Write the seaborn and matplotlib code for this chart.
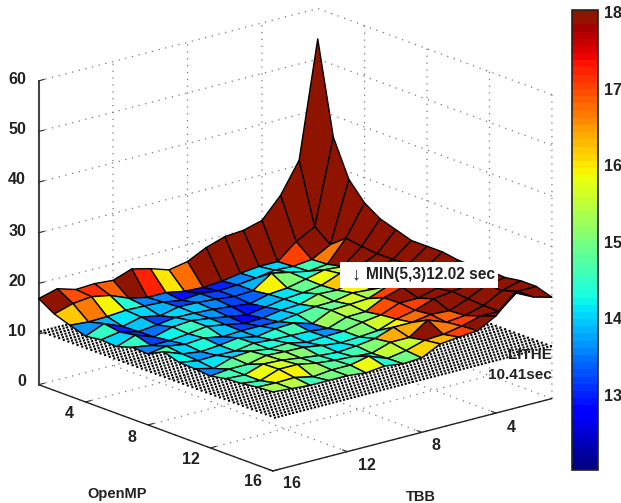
import numpy as np
import seaborn as sns
import matplotlib
import matplotlib.pyplot as plt
from matplotlib.colors import Normalize, ListedColormap
from matplotlib.cm import ScalarMappable

sns.set_style("white")
plt.rcParams['font.family'] = ['Liberation Sans', 'DejaVu Sans']
plt.rcParams['font.weight'] = 'bold'

# thread counts on both axes
openmp = list(range(1, 17))
tbb = list(range(1, 17))
axis_ticks = [4, 8, 12, 16]
z_ticks = [0, 10, 20, 30, 40, 50, 60]
bar_ticks = [13, 14, 15, 16, 17, 18]

# runtime in sec, one row per OpenMP count, TBB count along the row
row01 = [54, 31, 25, 21, 20, 19.7, 18.5, 16.7, 16, 17.2, 18.1, 16.8, 17.1, 16.9, 18, 17]
row02 = [35.7, 19, 17, 14, 14, 13.6, 13, 12.7, 12.9, 13.6, 13.6, 14.4, 15.9, 16.6, 16.2, 15.1]
row03 = [28.5, 16.6, 14.6, 14.2, 14.4, 13.8, 13.4, 13.2, 13.6, 13.2, 13.8, 14, 14.1, 13.8, 13.7, 14]
row04 = [25, 19, 14.8, 14.4, 15.1, 15.9, 13.4, 13.2, 13.6, 13.9, 14, 13.2, 13.9, 13, 14.5, 13]
row05 = [23, 18.5, 15.5, 15.8, 14.9, 14.1, 13.8, 12.9, 13.3, 13.7, 13.9, 14, 13.5, 13.1, 14, 13.4]
row06 = [22, 18.2, 16.6, 16.2, 14.8, 14.3, 14, 13.4, 12.8, 13.4, 14, 14.5, 14.2, 13.2, 14.5, 13.2]
row07 = [21, 18.2, 17, 15.9, 15, 15.2, 14.1, 13.9, 13.3, 13.2, 13.9, 14.5, 14, 13.6, 13.6, 14.2]
row08 = [21, 18.4, 16.9, 15.3, 15.6, 14.9, 14.8, 14.2, 13.7, 13.8, 13.8, 13.6, 14.3, 14, 14.6, 14]
row09 = [21, 18.6, 18, 17, 15.6, 15.4, 15.2, 13.5, 14.6, 14.4, 13.8, 14.5, 14, 13.7, 14.2, 15.6]
row10 = [20.5, 19, 18, 18, 16.9, 15.1, 15, 13.7, 14.1, 14.2, 14.3, 14.6, 14, 14.1, 14, 14.6]
row11 = [20.5, 19, 18, 17, 17, 15.6, 15.1, 14.3, 14.2, 14, 14.8, 14.6, 15.1, 14.8, 13.6, 14.5]
row12 = [20.7, 19, 18.5, 18, 16.7, 15.9, 14.6, 14.3, 14.1, 14.5, 15.1, 15.2, 15.4, 14.6, 14.6, 14.2]
row13 = [20.5, 20, 18.2, 16.8, 17, 16.4, 16.4, 15.1, 14.6, 14.3, 14.6, 15.1, 15.6, 15.8, 14.6, 14.8]
row14 = [21, 20, 18, 17, 16.6, 18, 15.5, 15.5, 14.3, 14.6, 14.8, 15.2, 15.9, 15.9, 14.6, 15]
row15 = [21, 21, 18, 18, 17, 16.3, 16.1, 15, 14.4, 15.8, 15, 15, 14.6, 15.4, 15.3, 15.4]
row16 = [20, 21, 22.8, 19.2, 17.2, 16.9, 16.5, 14.7, 14.5, 15, 14.6, 15, 15, 15, 15.3, 15.6]
runtime = np.array([row01, row02, row03, row04, row05, row06, row07, row08,
                    row09, row10, row11, row12, row13, row14, row15, row16])

lithe_time = 10.41
min_time = 12.02
max_color = 18.0

# tick label spots in pixels of the 621x503 picture
z_label_y = [382, 332, 281, 231, 180, 129, 79]
openmp_label_xy = [(69, 414), (132, 437), (191, 460), (253, 482)]
tbb_label_xy = [(511, 427), (436, 446), (367, 465), (292, 483)]

def put_text(px, py, s, **kw):
    return fig.text(px / 621, 1 - py / 503, s, color='#222222', va='center', **kw)

fig = plt.figure(figsize=(6.21, 5.03), dpi=100)
ax = fig.add_axes([37 / 621, 5 / 503, 503 / 621, 1.0], projection='3d', computed_zorder=False)
ax.set_proj_type('ortho')
ax.view_init(elev=18, azim=50)
ax.set_box_aspect((1, 1, 0.877), zoom=1.17)

# seaborn refuses the name jet, so hand it the 64 matlab levels as a list
levels = sns.color_palette(list(matplotlib.colormaps['jet'](np.linspace(0, 1, 64))[:, :3]))
levels[-1] = (0.56, 0.08, 0.0)
levels[-2] = (0.58, 0.07, 0.0)
cmap = ListedColormap(levels)
norm = Normalize(vmin=min_time, vmax=max_color, clip=True)

T, O = np.meshgrid(tbb, openmp)

# the LITHE reference plane, a very dense mesh that prints as dots
plane_t, plane_o = np.meshgrid(np.linspace(1, 16, 2), np.linspace(1, 16, 52))
plane = ax.plot_wireframe(plane_t, plane_o, np.full(plane_t.shape, lithe_time), rstride=1, cstride=0,
                          color='black', linewidth=1.5, linestyle=(0, (1, 0.8)), zorder=1)
plane.set_clip_on(False)

surf = ax.plot_surface(T, O, runtime, rstride=1, cstride=1, facecolors=cmap(norm(runtime)),
                       shade=False, edgecolor='black', linewidth=1.0, antialiased=True, zorder=2)
surf.set_clip_on(False)  # the right tip sticks out of the square axes box

ax.set_xlim(1, 16)
ax.set_ylim(1, 16)
ax.set_zlim(0, 60)
ax.set_xticks(axis_ticks)
ax.set_yticks(axis_ticks)
ax.set_zticks(z_ticks)
ax.set_xticklabels([])
ax.set_yticklabels([])
ax.set_zticklabels([])

for axis in [ax.xaxis, ax.yaxis, ax.zaxis]:
    axis.set_pane_color((1, 1, 1, 1))
    axis.pane.set_edgecolor((1, 1, 1, 0))
    axis._axinfo['grid'].update(color='#777777', linestyle=(0, (1, 4.5)), linewidth=0.9)
    axis._axinfo['tick']['inward_factor'] = 0.0
    axis._axinfo['tick']['outward_factor'] = 0.25
    axis.line.set_color('#222222')
    axis.line.set_linewidth(1.0)
ax.zaxis.set_ticks_position('lower')
ax.zaxis.line.set_color('#444444')
ax.zaxis.line.set_linewidth(1.5)

for z, py in zip(z_ticks, z_label_y):
    put_text(26, py, str(z), ha='right', fontsize=11.5)
for t, (px, py) in zip(axis_ticks, openmp_label_xy):
    put_text(px, py, str(t), ha='center', fontsize=11.5)
for t, (px, py) in zip(axis_ticks, tbb_label_xy):
    put_text(px, py, str(t), ha='center', fontsize=11.5)

put_text(117, 494, 'OpenMP', ha='center', fontsize=10.5)
put_text(421, 497, 'TBB', ha='center', fontsize=10.5)
put_text(552, 355, 'LITHE', ha='right', fontsize=11)
put_text(552, 375, '10.41sec', ha='right', fontsize=11)

# white label box over the surface
fig.add_artist(plt.Rectangle((340 / 621, 1 - 288 / 503), 158 / 621, 26 / 503, transform=fig.transFigure,
                             facecolor='white', edgecolor='none', zorder=5))
put_text(356, 275, '\u2193', ha='center', fontsize=13, fontweight='normal', zorder=6)
put_text(366, 275, 'MIN(5,3)12.02 sec', ha='left', fontsize=11.2, zorder=6)

cax = fig.add_axes([572 / 621, 1 - 470 / 503, 26 / 621, 460 / 503])
sm = ScalarMappable(norm=Normalize(vmin=min_time, vmax=18.03), cmap=cmap)
bar = fig.colorbar(sm, cax=cax, ticks=bar_ticks)
bar.outline.set_linewidth(1.2)
bar.outline.set_edgecolor('#222222')
cax.tick_params(axis='y', which='major', direction='in', length=4, width=0.9, left=True, right=True,
                labelsize=11.5, colors='#222222', pad=4)

fig.savefig('out.png', dpi=100)
